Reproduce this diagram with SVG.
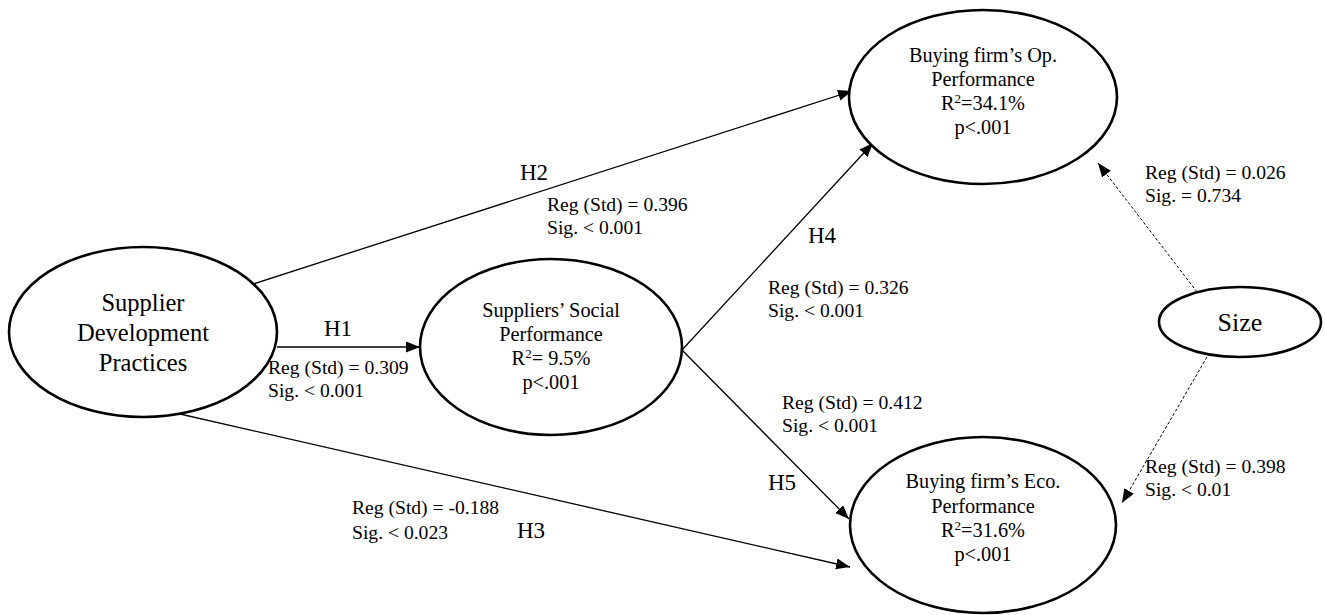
<svg xmlns="http://www.w3.org/2000/svg" width="1325" height="615" viewBox="0 0 1325 615">
  <defs>
    <marker id="arrow" markerUnits="userSpaceOnUse" markerWidth="15" markerHeight="12" refX="14" refY="5.5" orient="auto">
      <path d="M0,0 L14,5.5 L0,11 z" fill="#000"/>
    </marker>
    <style>
      text { font-family: "Liberation Serif", "Times New Roman", serif; fill: #000; }
      .node ellipse { fill: #fff; stroke: #000; stroke-width: 2.6; }
      .big { font-family: "Liberation Serif", serif; font-size: 24.5px; text-anchor: middle; }
      .size { font-family: "Liberation Serif", serif; font-size: 26px; text-anchor: middle; }
      .mid { font-family: "Liberation Serif", serif; font-size: 20.3px; text-anchor: middle; }
      .hyp { font-family: "Liberation Serif", serif; font-size: 23px; }
      .est { font-family: "Liberation Serif", serif; font-size: 19.6px; }
      .link { stroke: #000; stroke-width: 1.3; fill: none; marker-end: url(#arrow); }
      .ctrl { stroke: #000; stroke-width: 1; fill: none; stroke-dasharray: 3 2; marker-end: url(#arrow); }
    </style>
  </defs>
  <rect width="1325" height="615" fill="#fff"/>

  <!-- paths between constructs -->
  <g id="connectors">
    <line class="link" x1="277" y1="347" x2="420" y2="347"/>
    <line class="link" x1="250" y1="285" x2="852" y2="91"/>
    <line class="link" x1="180" y1="414" x2="850" y2="567"/>
    <line class="link" x1="682" y1="350" x2="873" y2="143"/>
    <line class="link" x1="682" y1="350" x2="849" y2="519"/>
    <line class="ctrl" x1="1197" y1="292" x2="1098" y2="163"/>
    <line class="ctrl" x1="1207" y1="357" x2="1122" y2="503"/>
  </g>

  <!-- hypothesis labels and estimates -->
  <g id="labels">
    <text class="hyp" x="324" y="336">H1</text>
    <text class="hyp" x="520" y="180">H2</text>
    <text class="hyp" x="517" y="538">H3</text>
    <text class="hyp" x="808" y="243">H4</text>
    <text class="hyp" x="768" y="490">H5</text>

    <text class="est" x="268" y="374">Reg (Std) = 0.309</text>
    <text class="est" x="268" y="397">Sig. &lt; 0.001</text>

    <text class="est" x="547" y="211">Reg (Std) = 0.396</text>
    <text class="est" x="547" y="234">Sig. &lt; 0.001</text>

    <text class="est" x="768" y="294">Reg (Std) = 0.326</text>
    <text class="est" x="768" y="317">Sig. &lt; 0.001</text>

    <text class="est" x="782" y="409">Reg (Std) = 0.412</text>
    <text class="est" x="782" y="432">Sig. &lt; 0.001</text>

    <text class="est" x="352" y="514">Reg (Std) = -0.188</text>
    <text class="est" x="352" y="539">Sig. &lt; 0.023</text>

    <text class="est" x="1145" y="179">Reg (Std) = 0.026</text>
    <text class="est" x="1145" y="202">Sig. = 0.734</text>

    <text class="est" x="1145" y="473">Reg (Std) = 0.398</text>
    <text class="est" x="1145" y="496">Sig. &lt; 0.01</text>
  </g>

  <g id="sdp" class="node">
    <ellipse cx="143" cy="332" rx="134" ry="85"/>
    <text class="big" x="143" y="311">Supplier</text>
    <text class="big" x="143" y="341">Development</text>
    <text class="big" x="143" y="371">Practices</text>
  </g>

  <g id="social" class="node">
    <ellipse cx="551" cy="347" rx="131" ry="88"/>
    <text class="mid" x="551" y="317">Suppliers’ Social</text>
    <text class="mid" x="551" y="341">Performance</text>
    <text class="mid" x="551" y="365">R<tspan font-size="13" dy="-7">2</tspan><tspan dy="7">= 9.5%</tspan></text>
    <text class="mid" x="551" y="389">p&lt;.001</text>
  </g>

  <g id="op" class="node">
    <ellipse cx="983" cy="97" rx="134" ry="87"/>
    <text class="mid" x="983" y="62">Buying firm’s Op.</text>
    <text class="mid" x="983" y="86">Performance</text>
    <text class="mid" x="983" y="110">R<tspan font-size="13" dy="-7">2</tspan><tspan dy="7">=34.1%</tspan></text>
    <text class="mid" x="983" y="134">p&lt;.001</text>
  </g>

  <g id="eco" class="node">
    <ellipse cx="983" cy="525" rx="133" ry="88"/>
    <text class="mid" x="983" y="488">Buying firm’s Eco.</text>
    <text class="mid" x="983" y="513">Performance</text>
    <text class="mid" x="983" y="537">R<tspan font-size="13" dy="-7">2</tspan><tspan dy="7">=31.6%</tspan></text>
    <text class="mid" x="983" y="561">p&lt;.001</text>
  </g>

  <g id="size" class="node">
    <ellipse cx="1240" cy="322" rx="81" ry="35"/>
    <text class="size" x="1240" y="331">Size</text>
  </g>
</svg>
